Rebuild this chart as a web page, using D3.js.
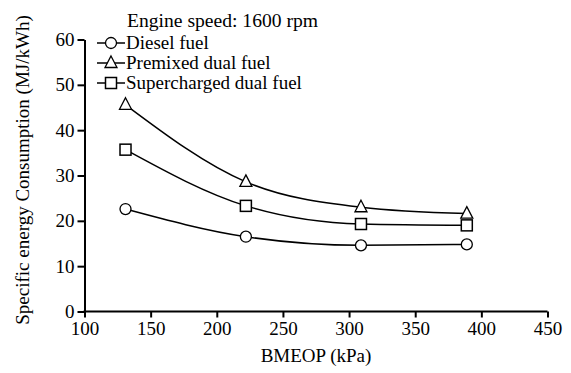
<!DOCTYPE html>
<html><head><meta charset="utf-8">
<script src="https://cdn.jsdelivr.net/npm/d3@7"></script>
<style>body{margin:0;background:#fff;}</style>
</head><body><svg id="c" width="571" height="373"></svg>
<script>
const bmeop = [131, 222, 309, 389];
const diesel = [22.6, 16.5, 14.6, 14.8];
const premixed = [45.6, 28.6, 23.0, 21.6];
const supercharged = [35.7, 23.3, 19.3, 19.0];
const xTicks = [100,150,200,250,300,350,400,450];
const yTicks = [0,10,20,30,40,50,60];
const seriesNames = ["Diesel fuel","Premixed dual fuel","Supercharged dual fuel"];
const seriesShapes = ["circle","triangle","square"];

const FONT = "Liberation Serif";
const fs = 19;
const svg = d3.select("#c");
const x = d3.scaleLinear().domain([100,450]).range([84.5,547.5]);
const y = d3.scaleLinear().domain([0,60]).range([311.5,39.5]);

const xa = svg.append("g").attr("transform","translate(0,311.5)")
  .call(d3.axisBottom(x).tickValues(xTicks).tickSize(6).tickPadding(4).tickSizeOuter(0));
const ya = svg.append("g").attr("transform","translate(84.5,0)")
  .call(d3.axisLeft(y).tickValues(yTicks).tickSize(7).tickPadding(3).tickSizeOuter(0));
[xa,ya].forEach(a=>{
  a.selectAll("path").attr("stroke","#000").attr("stroke-width",2);
  a.selectAll("line").attr("stroke","#000").attr("stroke-width",2);
  a.selectAll("text").attr("fill","#000");
});
xa.select(".domain").attr("d",`M${x(100)-1},0H${x(450)}`);

svg.append("text").attr("x",(x(100)+x(450))/2).attr("y",362).attr("text-anchor","middle")
  .text("BMEOP (kPa)");
svg.append("text").attr("transform","translate(29,170) rotate(-90)").attr("text-anchor","middle")
  .text("Specific energy Consumption (MJ/kWh)");

const line = d3.line().x(d=>x(d[0])).y(d=>y(d[1])).curve(d3.curveMonotoneX);
const all = [diesel, premixed, supercharged];

function marker(g, shape, cx, cy){
  if(shape==="circle") g.append("circle").attr("cx",cx).attr("cy",cy).attr("r",5.5).attr("fill","#fff").attr("stroke","#000").attr("stroke-width",1.3);
  else if(shape==="square") g.append("rect").attr("x",cx-5.5).attr("y",cy-5.5).attr("width",11).attr("height",11).attr("fill","#fff").attr("stroke","#000").attr("stroke-width",1.5);
  else g.append("path").attr("d",`M${cx},${cy-7}L${cx+6},${cy+4.5}L${cx-6},${cy+4.5}Z`).attr("fill","#fff").attr("stroke","#000").attr("stroke-width",1.3);
}

all.forEach((vals,i)=>{
  const pts = bmeop.map((b,j)=>[b, vals[j]]);
  svg.append("path").datum(pts).attr("d",line).attr("fill","none").attr("stroke","#000").attr("stroke-width",1.5);
  const g = svg.append("g");
  pts.forEach(p=>marker(g, seriesShapes[i], x(p[0]), y(p[1])));
});

seriesNames.forEach((n,i)=>{
  const cy = 43 + i*20;
  const g = svg.append("g");
  g.append("line").attr("x1",97).attr("x2",125).attr("y1",cy).attr("y2",cy).attr("stroke","#000").attr("stroke-width",1.5);
  marker(g, seriesShapes[i], 111, cy);
  g.append("text").attr("x",126).attr("y",cy+6).text(n);
});
svg.selectAll("text").attr("font-family",FONT).attr("font-size",fs).attr("fill","#000");
svg.append("text").attr("x",127).attr("y",27).attr("font-family",FONT).attr("font-size",19.6).attr("fill","#000").text("Engine speed: 1600 rpm");
</script></body></html>
